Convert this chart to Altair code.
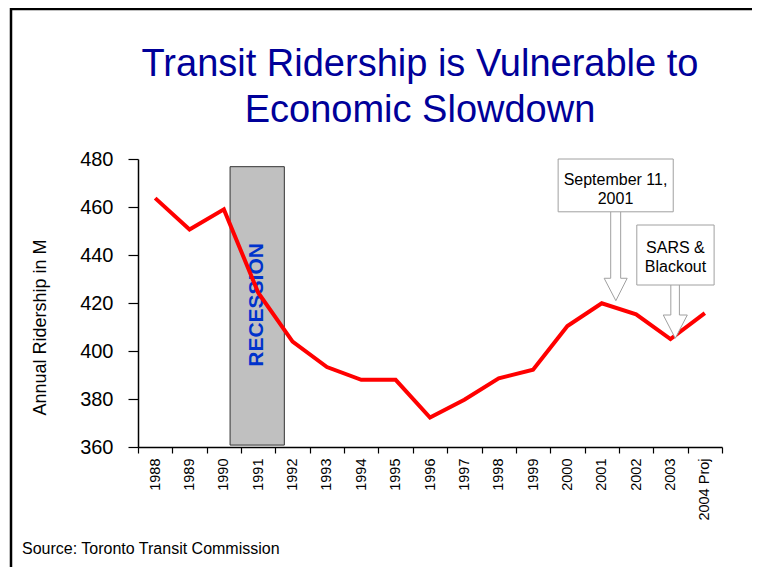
import altair as alt
import pandas as pd

# ---- data ----
years = ["1988", "1989", "1990", "1991", "1992", "1993", "1994", "1995", "1996",
         "1997", "1998", "1999", "2000", "2001", "2002", "2003", "2004 Proj"]
ridership = [463.7, 450.6, 459.0, 424.3, 403.9, 393.3, 388.0, 388.0, 372.3,
             379.7, 388.6, 392.2, 410.4, 419.9, 415.3, 405.0, 415.8]

# annotation geometry in data units (x = year index, y = ridership)
recession_x = [2.18, 3.76]
recession_y = [360.8, 476.8]
recession_label = ["RECESSION"]
recession_label_pos = [2.97, 419.2]

callout_texts = ["September 11,\n2001", "SARS &\nBlackout"]
callout_box_x = [[11.73, 15.08], [14.02, 16.27]]
callout_box_y = [[458.0, 480.0], [427.5, 452.5]]
callout_text_pos = [[13.40, 469.2], [15.145, 440.7]]
arrow_x = [[13.26, 13.26, 13.07, 13.41, 13.74, 13.55, 13.55],
           [15.01, 15.01, 14.79, 15.14, 15.49, 15.26, 15.26]]
arrow_y = [[458.0, 430.3, 430.3, 420.96, 430.3, 430.3, 458.0],
           [427.5, 415.0, 415.0, 405.3, 415.0, 415.0, 427.5]]

title_text = "Transit Ridership is Vulnerable to\nEconomic Slowdown"
source_text = "Source: Toronto Transit Commission"

FONT = "Liberation Sans"

df = pd.DataFrame({"year": years, "ridership": ridership})

xq = alt.Scale(domain=[-0.5, len(years) - 0.5], nice=False, zero=False)
yscale = alt.Scale(domain=[360, 480], nice=False, zero=False)

# recession band
rec_df = pd.DataFrame({"x": [recession_x[0]], "x2": [recession_x[1]],
                       "y": [recession_y[0]], "y2": [recession_y[1]]})
rec = alt.Chart(rec_df).mark_rect(fill="#C0C0C0", stroke="#333333", strokeWidth=1).encode(
    x=alt.X("x:Q", scale=xq, axis=None), x2="x2",
    y=alt.Y("y:Q", scale=yscale), y2="y2")

rec_lbl = alt.Chart(pd.DataFrame({"x": [recession_label_pos[0]], "y": [recession_label_pos[1]],
                                  "t": recession_label})).mark_text(
    angle=270, fontWeight="bold", fontSize=21, color="#0033CC", font=FONT,
    align="center", baseline="middle").encode(
    x=alt.X("x:Q", scale=xq, axis=None), y=alt.Y("y:Q", scale=yscale), text="t:N")

line = alt.Chart(df).mark_line(color="#FF0000", strokeWidth=4).encode(
    x=alt.X("year:N", sort=years,
            scale=alt.Scale(type="band", paddingInner=0, paddingOuter=0),
            axis=alt.Axis(title=None, tickBand="extent", labelAngle=270, labelAlign="right",
                          labelBaseline="middle", labelFontSize=14.5, labelFont=FONT,
                          labelColor="black", tickSize=6, tickColor="black",
                          domainColor="black", domainWidth=1.5, tickWidth=1.2,
                          labelPadding=5, grid=False)),
    y=alt.Y("ridership:Q", scale=yscale,
            axis=alt.Axis(title="Annual Ridership in M", values=[360, 380, 400, 420, 440, 460, 480],
                          labelFontSize=20, labelFont=FONT, labelColor="black",
                          tickSize=10, tickColor="black", domainColor="black",
                          domainWidth=1.5, tickWidth=1.2, labelPadding=15, grid=False,
                          titleFont=FONT, titleFontSize=18, titleFontWeight="normal",
                          titleColor="black", titleX=-93, titleY=168,
                          titleAlign="center", titleBaseline="alphabetic", titleAngle=270)))

layers = [rec, rec_lbl, line]

for i, txt in enumerate(callout_texts):
    bdf = pd.DataFrame({"x": [callout_box_x[i][0]], "x2": [callout_box_x[i][1]],
                        "y": [callout_box_y[i][0]], "y2": [callout_box_y[i][1]]})
    box = alt.Chart(bdf).mark_rect(fill="white", stroke="#A0A0A0", strokeWidth=1).encode(
        x=alt.X("x:Q", scale=xq, axis=None), x2="x2",
        y=alt.Y("y:Q", scale=yscale), y2="y2")
    adf = pd.DataFrame({"x": arrow_x[i], "y": arrow_y[i], "o": list(range(len(arrow_x[i])))})
    arrow = alt.Chart(adf).mark_line(fill="white", stroke="#A0A0A0", strokeWidth=1).encode(
        x=alt.X("x:Q", scale=xq, axis=None), y=alt.Y("y:Q", scale=yscale), order="o:Q")
    tdf = pd.DataFrame({"x": [callout_text_pos[i][0]], "y": [callout_text_pos[i][1]], "t": [txt]})
    t = alt.Chart(tdf).mark_text(fontSize=16, font=FONT, color="black", align="center",
                                 baseline="alphabetic", lineBreak="\n", lineHeight=19).encode(
        x=alt.X("x:Q", scale=xq, axis=None), y=alt.Y("y:Q", scale=yscale), text="t:N")
    layers += [arrow, box, t]

one = alt.Data(values=[{}])
title = alt.Chart(one).mark_text(text=title_text, lineBreak="\n", lineHeight=46, fontSize=38,
                                 font=FONT, color="#000099", align="center",
                                 baseline="alphabetic").encode(
    x=alt.value(282), y=alt.value(-83))
source = alt.Chart(one).mark_text(text=source_text, fontSize=16, font=FONT, color="black",
                                  align="left", baseline="alphabetic").encode(
    x=alt.value(-116), y=alt.value(395))
top_border = alt.Chart(one).mark_rule(color="black", strokeWidth=2.5).encode(
    x=alt.value(-128), x2=alt.value(640), y=alt.value(-150))
left_border = alt.Chart(one).mark_rule(color="black", strokeWidth=2.5).encode(
    x=alt.value(-127), y=alt.value(-151), y2=alt.value(420))

layers += [title, source, top_border, left_border]

chart = alt.layer(*layers).resolve_scale(x="independent").properties(
    width=584, height=288,
    padding={"left": 130, "top": 151, "right": 30, "bottom": 120},
    autosize=alt.AutoSizeParams(type="none"),
    background="white",
).configure_view(stroke=None)

chart.save("out.html", embed_options={"renderer": "svg", "actions": False})
